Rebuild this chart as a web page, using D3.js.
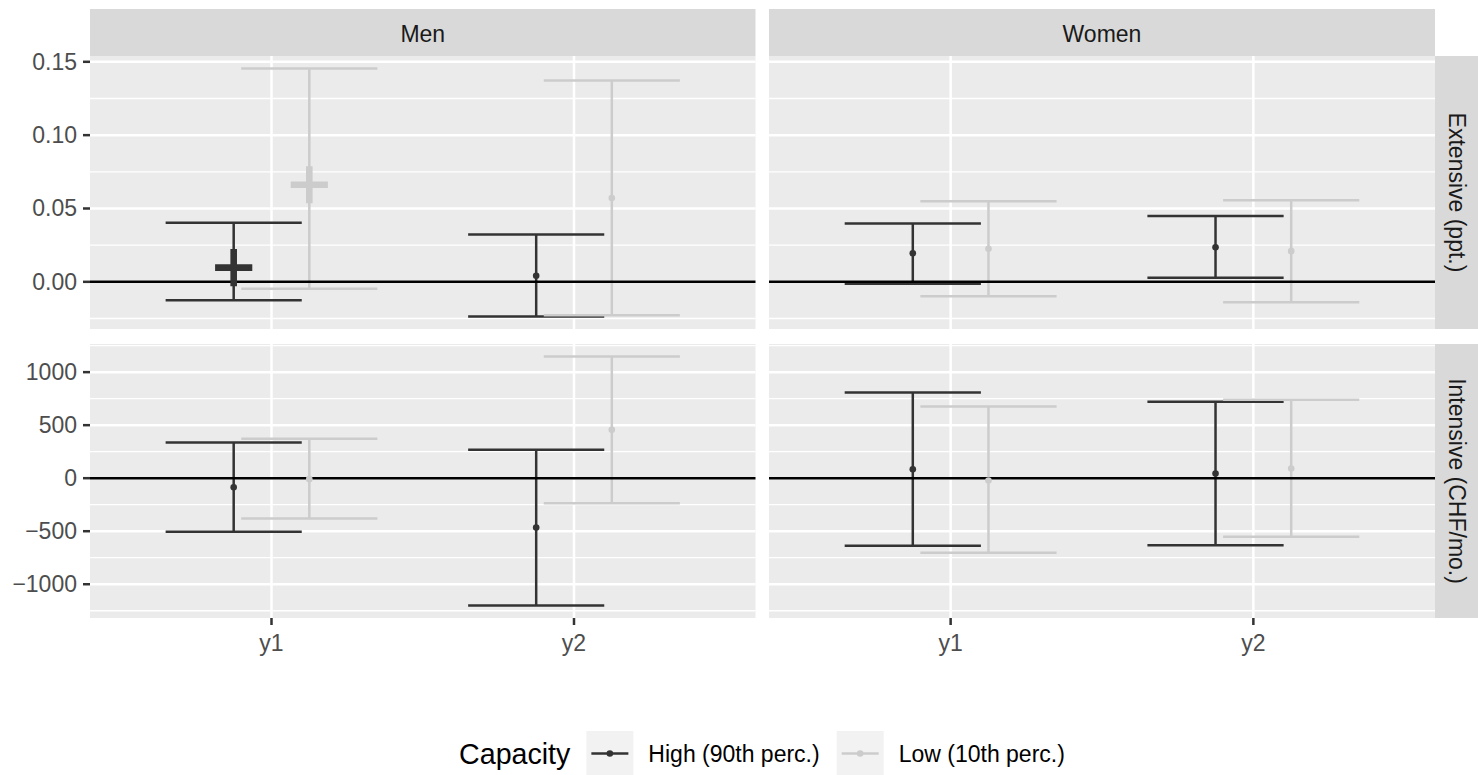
<!DOCTYPE html>
<html><head><meta charset="utf-8">
<script src="https://cdn.jsdelivr.net/npm/d3@7"></script>
<style>html,body{margin:0;padding:0;background:#fff;} svg{display:block;font-family:"Liberation Sans",Arial,Helvetica,sans-serif;}</style>
</head><body><svg id="chart" width="1478" height="775"></svg>
<script>
// ---------------- data ----------------
const sexes = ["Men", "Women"];
const margins = ["Extensive (ppt.)", "Intensive (CHF/mo.)"];
const outcomes = ["y1", "y2"];
const capacities = ["High (90th perc.)", "Low (10th perc.)"];
const capacityColors = ["#333333", "#cccccc"];

// order within each array: y1-High, y1-Low, y2-High, y2-Low
const extMenEst   = [0.0097, 0.0662, 0.0041, 0.0571];
const extMenLow   = [-0.0126, -0.0047, -0.0237, -0.0228];
const extMenHigh  = [0.0402, 0.1455, 0.0323, 0.1373];
const extMenShape = ["plus", "plus", "dot", "dot"];
const extWomenEst  = [0.0195, 0.0225, 0.0236, 0.0209];
const extWomenLow  = [-0.0013, -0.0099, 0.0028, -0.0140];
const extWomenHigh = [0.0398, 0.0549, 0.0448, 0.0556];

const intMenEst   = [-85, -9, -465, 457];
const intMenLow   = [-506, -380, -1201, -236];
const intMenHigh  = [337, 372, 268, 1148];
const intWomenEst  = [85, -22, 44, 92];
const intWomenLow  = [-638, -704, -632, -553];
const intWomenHigh = [808, 676, 721, 740];

const extBreaks = [0, 0.05, 0.10, 0.15];
const extTickLabels = ["0.00", "0.05", "0.10", "0.15"];
const intBreaks = [-1000, -500, 0, 500, 1000];
const intTickLabels = ["\u22121000", "\u2212500", "0", "500", "1000"];

// ---------------- build rows ----------------
function rowsFor(est, lo, hi, mi, si, shapes) {
  const out = [];
  est.forEach((e, i) => {
    out.push({margin: mi, sex: si, outcome: Math.floor(i / 2), cap: i % 2, est: e, lo: lo[i], hi: hi[i],
              shape: shapes ? shapes[i] : "dot"});
  });
  return out;
}
const data = [].concat(
  rowsFor(extMenEst, extMenLow, extMenHigh, 0, 0, extMenShape),
  rowsFor(extWomenEst, extWomenLow, extWomenHigh, 0, 1),
  rowsFor(intMenEst, intMenLow, intMenHigh, 1, 0),
  rowsFor(intWomenEst, intWomenLow, intWomenHigh, 1, 1)
);

// ---------------- layout ----------------
const svg = d3.select("#chart");
const colX = [[90, 755.5], [769, 1435]];
const rowY = [[56, 329], [344, 618]];
const stripTop = 9, stripRight = 1478;
const tickFont = 23, titleFont = 28.6;
const lineW = 2.5;

const breaksByRow = [extBreaks, intBreaks];
const labelsByRow = [extTickLabels, intTickLabels];

// y scales with 5% expansion
const yScales = [0, 1].map(mi => {
  const rows = data.filter(d => d.margin === mi);
  const mn = d3.min(rows, d => d.lo), mx = d3.max(rows, d => d.hi);
  const pad = (mx - mn) * 0.05;
  return d3.scaleLinear().domain([mn - pad, mx + pad]).range([rowY[mi][1], rowY[mi][0]]);
});
const xScales = [0, 1].map(si => d3.scaleLinear().domain([0.4, 2.6]).range(colX[si]));
const dodge = [-0.125, 0.125];
const capHalf = 0.225;

function minorBreaks(br, dom) {
  const step = br[1] - br[0];
  const res = [];
  for (let v = br[0] - step / 2; v <= br[br.length - 1] + step; v += step) {
    if (v >= dom[0] && v <= dom[1]) res.push(v);
  }
  return res;
}

// panels
for (let mi = 0; mi < 2; mi++) {
  for (let si = 0; si < 2; si++) {
    const xs = xScales[si], ys = yScales[mi];
    const g = svg.append("g");
    const [x0, x1] = colX[si], [y0, y1] = rowY[mi];
    g.append("rect").attr("x", x0).attr("y", y0).attr("width", x1 - x0).attr("height", y1 - y0).attr("fill", "#ebebeb");
    const dom = ys.domain();
    g.selectAll(".ymin").data(minorBreaks(breaksByRow[mi], dom)).join("line")
      .attr("x1", x0).attr("x2", x1).attr("y1", d => ys(d)).attr("y2", d => ys(d))
      .attr("stroke", "#fff").attr("stroke-width", 1.3);
    g.selectAll(".ymaj").data(breaksByRow[mi]).join("line")
      .attr("x1", x0).attr("x2", x1).attr("y1", d => ys(d)).attr("y2", d => ys(d))
      .attr("stroke", "#fff").attr("stroke-width", lineW);
    g.selectAll(".xmaj").data(outcomes).join("line")
      .attr("x1", (d, i) => xs(i + 1)).attr("x2", (d, i) => xs(i + 1)).attr("y1", y0).attr("y2", y1)
      .attr("stroke", "#fff").attr("stroke-width", lineW);

    const rows = data.filter(d => d.margin === mi && d.sex === si);
    rows.forEach(d => {
      const cx = d.outcome + 1 + dodge[d.cap];
      const col = capacityColors[d.cap];
      g.append("line").attr("x1", xs(cx)).attr("x2", xs(cx)).attr("y1", ys(d.lo)).attr("y2", ys(d.hi))
        .attr("stroke", col).attr("stroke-width", lineW);
      [d.lo, d.hi].forEach(v => {
        g.append("line").attr("x1", xs(cx - capHalf)).attr("x2", xs(cx + capHalf))
          .attr("y1", ys(v)).attr("y2", ys(v)).attr("stroke", col).attr("stroke-width", lineW);
      });
    });
    g.append("line").attr("x1", x0).attr("x2", x1).attr("y1", ys(0)).attr("y2", ys(0))
      .attr("stroke", "#000").attr("stroke-width", lineW);
    rows.forEach(d => {
      const cx = xs(d.outcome + 1 + dodge[d.cap]), cy = ys(d.est);
      const col = capacityColors[d.cap];
      if (d.shape === "plus") {
        const a = 18.6;
        g.append("path").attr("d", `M${cx - a},${cy}H${cx + a}M${cx},${cy - a}V${cy + a}`)
          .attr("stroke", col).attr("stroke-width", 6.6).attr("fill", "none");
      } else {
        g.append("circle").attr("cx", cx).attr("cy", cy).attr("r", 3.3).attr("fill", col);
      }
    });
  }
}

// y axes
for (let mi = 0; mi < 2; mi++) {
  const ys = yScales[mi];
  const g = svg.append("g");
  breaksByRow[mi].forEach((b, i) => {
    g.append("line").attr("x1", 83).attr("x2", 90).attr("y1", ys(b)).attr("y2", ys(b))
      .attr("stroke", "#333333").attr("stroke-width", lineW);
    g.append("text").attr("x", 77).attr("y", ys(b)).attr("text-anchor", "end")
      .attr("dominant-baseline", "central").attr("font-size", tickFont).attr("fill", "#4d4d4d")
      .text(labelsByRow[mi][i]);
  });
}
// x axes
for (let si = 0; si < 2; si++) {
  const xs = xScales[si];
  const g = svg.append("g");
  outcomes.forEach((o, i) => {
    g.append("line").attr("x1", xs(i + 1)).attr("x2", xs(i + 1)).attr("y1", 618).attr("y2", 625)
      .attr("stroke", "#333333").attr("stroke-width", lineW);
    g.append("text").attr("x", xs(i + 1)).attr("y", 643).attr("text-anchor", "middle")
      .attr("dominant-baseline", "central").attr("font-size", tickFont).attr("fill", "#4d4d4d").text(o);
  });
}
// top strips
sexes.forEach((s, si) => {
  const [x0, x1] = colX[si];
  svg.append("rect").attr("x", x0).attr("y", stripTop).attr("width", x1 - x0).attr("height", rowY[0][0] - stripTop).attr("fill", "#d9d9d9");
  svg.append("text").attr("x", (x0 + x1) / 2).attr("y", (stripTop + rowY[0][0]) / 2 + 1).attr("text-anchor", "middle")
    .attr("dominant-baseline", "central").attr("font-size", tickFont).attr("fill", "#1a1a1a").text(s);
});
// right strips
margins.forEach((m, mi) => {
  const [y0, y1] = rowY[mi];
  const x0 = colX[1][1];
  svg.append("rect").attr("x", x0).attr("y", y0).attr("width", stripRight - x0).attr("height", y1 - y0).attr("fill", "#d9d9d9");
  const cx = (x0 + stripRight) / 2, cy = (y0 + y1) / 2;
  svg.append("text").attr("transform", `translate(${cx},${cy}) rotate(90)`).attr("text-anchor", "middle")
    .attr("dominant-baseline", "central").attr("font-size", tickFont).attr("fill", "#1a1a1a").text(m);
});

// legend
const lg = svg.append("g");
const legY = 753.5;
const keyW = 47, keyH = 45;
const title = lg.append("text").attr("x", 0).attr("y", legY).attr("dominant-baseline", "central")
  .attr("font-size", titleFont).attr("fill", "#000").text("Capacity");
let x = title.node().getComputedTextLength() + 16;
capacities.forEach((c, i) => {
  lg.append("rect").attr("x", x).attr("y", legY - keyH / 2).attr("width", keyW).attr("height", keyH).attr("fill", "#f2f2f2");
  lg.append("line").attr("x1", x + 5).attr("x2", x + keyW - 5).attr("y1", legY).attr("y2", legY)
    .attr("stroke", capacityColors[i]).attr("stroke-width", lineW);
  lg.append("circle").attr("cx", x + keyW / 2).attr("cy", legY).attr("r", 3.3).attr("fill", capacityColors[i]);
  x += keyW + 15;
  const t = lg.append("text").attr("x", x).attr("y", legY).attr("dominant-baseline", "central")
    .attr("font-size", tickFont).attr("fill", "#000").text(c);
  x += t.node().getComputedTextLength() + 17;
});
const totalW = x - 17;
lg.attr("transform", `translate(${762 - totalW / 2},0)`);
</script></body></html>
